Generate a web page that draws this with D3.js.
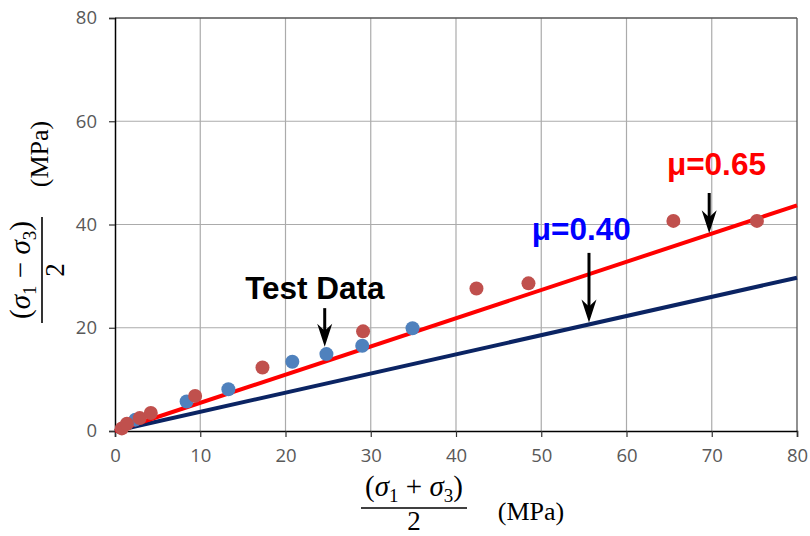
<!DOCTYPE html>
<html><head><meta charset="utf-8">
<script src="https://cdn.jsdelivr.net/npm/d3@7"></script>
<style>body{margin:0;background:#fff}svg{display:block}</style>
</head><body>
<script>
// ---- data ----
const redX = [0.8, 1.4, 2.9, 4.2, 9.4, 17.3, 29.1, 42.4, 48.5, 65.5, 75.3];
const redY = [0.5, 1.4, 2.5, 3.5, 6.8, 12.3, 19.3, 27.6, 28.6, 40.7, 40.7];
const blueX = [2.4, 8.4, 13.3, 20.8, 24.8, 29.0, 34.9];
const blueY = [2.2, 5.7, 8.1, 13.4, 14.9, 16.5, 19.9];
const lineX = [0, 80];
const lineRed = [0, 43.7];   // mu = 0.65
const lineBlue = [0, 29.7];  // mu = 0.40
const xTicks = [0, 10, 20, 30, 40, 50, 60, 70, 80];
const yTicks = [0, 20, 40, 60, 80];
const notes = [
  {text: "Test Data", color: "#000", lx: 23.45, ly: 25.6, ax: 24.6, ay0: 23.8, ay1: 16.3},
  {text: "μ=0.40", color: "#0000FF", lx: 54.7, ly: 37.0, ax: 55.6, ay0: 34.5, ay1: 21.0},
  {text: "μ=0.65", color: "#FF0000", lx: 70.55, ly: 49.6, ax: 69.7, ay0: 46.1, ay1: 38.3}
];

const W = 810, H = 536;
const m = {l: 115, r: 13, t: 18, b: 105};
const svg = d3.select("body").append("svg").attr("width", W).attr("height", H);
const x = d3.scaleLinear().domain([0, 80]).range([m.l, W - m.r]);
const y = d3.scaleLinear().domain([0, 80]).range([H - m.b, m.t]);

// grid
svg.append("g").selectAll("line.v").data(xTicks.slice(1, -1)).join("line")
  .attr("x1", d => x(d)).attr("x2", d => x(d)).attr("y1", y(0)).attr("y2", y(80))
  .attr("stroke", "#ababab").attr("stroke-width", 1.2);
svg.append("g").selectAll("line.h").data(yTicks.slice(1, -1)).join("line")
  .attr("x1", x(0)).attr("x2", x(80)).attr("y1", d => y(d)).attr("y2", d => y(d))
  .attr("stroke", "#ababab").attr("stroke-width", 1.2);
// frame
svg.append("line").attr("x1", x(0)).attr("x2", x(80)).attr("y1", y(80)).attr("y2", y(80)).attr("stroke", "#555").attr("stroke-width", 1.3);
svg.append("line").attr("x1", x(80)).attr("x2", x(80)).attr("y1", y(0)).attr("y2", y(80)).attr("stroke", "#555").attr("stroke-width", 1.3);

// axes
const xAxis = svg.append("g").attr("transform", `translate(0,${y(0)})`)
  .call(d3.axisBottom(x).tickValues(xTicks).tickSize(6).tickPadding(12).tickFormat(d3.format("d")));
const yAxis = svg.append("g").attr("transform", `translate(${x(0)},0)`)
  .call(d3.axisLeft(y).tickValues(yTicks).tickSize(6).tickPadding(12).tickFormat(d3.format("d")));
[xAxis, yAxis].forEach(g => {
  g.select(".domain").attr("stroke", "#000").attr("stroke-width", 1.5);
  g.selectAll(".tick line").attr("stroke", "#333").attr("stroke-width", 1.2);
  g.selectAll(".tick text").attr("fill", "#595959").style("font-family", "'Open Sans', 'Liberation Sans', sans-serif").style("font-size", "18.5px");
});

// lines
const lg = d3.line().x(d => x(d[0])).y(d => y(d[1]));
svg.append("path").datum(lineX.map((v, i) => [v, lineBlue[i]])).attr("d", lg)
  .attr("fill", "none").attr("stroke", "#0B2463").attr("stroke-width", 4);
svg.append("path").datum(lineX.map((v, i) => [v, lineRed[i]])).attr("d", lg)
  .attr("fill", "none").attr("stroke", "#FF0000").attr("stroke-width", 4);

// points
svg.append("g").selectAll("circle").data(blueX.map((v, i) => [v, blueY[i]])).join("circle")
  .attr("cx", d => x(d[0])).attr("cy", d => y(d[1])).attr("r", 7).attr("fill", "#4F81BD");
svg.append("g").selectAll("circle").data(redX.map((v, i) => [v, redY[i]])).join("circle")
  .attr("cx", d => x(d[0])).attr("cy", d => y(d[1])).attr("r", 7).attr("fill", "#C0504D");

// annotations
notes.forEach(n => {
  svg.append("text").attr("x", x(n.lx)).attr("y", y(n.ly)).attr("text-anchor", "middle")
    .attr("fill", n.color).style("font-family", "'Liberation Sans', Arial, sans-serif")
    .style("font-weight", "bold").style("font-size", "31.5px").text(n.text);
  const ax = x(n.ax), y0 = y(n.ay0), y1 = y(n.ay1);
  svg.append("line").attr("x1", ax).attr("x2", ax).attr("y1", y0).attr("y2", y1 - 14)
    .attr("stroke", "#000").attr("stroke-width", 3);
  svg.append("path").attr("d", `M${ax},${y1} L${ax - 7.5},${y1 - 23} L${ax},${y1 - 16} L${ax + 7.5},${y1 - 23} Z`)
    .attr("fill", "#000");
});

// axis titles (fractions)
const serif = "'Liberation Serif', 'DejaVu Serif', serif";
function frac(g, sign, half) {
  const num = g.append("text").attr("x", 0).attr("y", -14).attr("text-anchor", "middle")
    .style("font-family", serif).style("font-size", "29px").attr("fill", "#000");
  num.append("tspan").text("(");
  num.append("tspan").style("font-style", "italic").text("σ");
  num.append("tspan").attr("dy", 6).style("font-size", "19px").text("1");
  num.append("tspan").attr("dy", -6).text(" " + sign + " ");
  num.append("tspan").style("font-style", "italic").text("σ");
  num.append("tspan").attr("dy", 6).style("font-size", "19px").text("3");
  num.append("tspan").attr("dy", -6).text(")");
  g.append("line").attr("x1", -half).attr("x2", half).attr("y1", -2).attr("y2", -2).attr("stroke", "#000").attr("stroke-width", 1.6);
  g.append("text").attr("x", 0).attr("y", 20).attr("text-anchor", "middle")
    .style("font-family", serif).style("font-size", "27px").attr("fill", "#000").text("2");
}
const xt = svg.append("g").attr("transform", `translate(414,510)`);
frac(xt, "+", 53);
svg.append("text").attr("x", 531).attr("y", 520).attr("text-anchor", "middle")
  .style("font-family", serif).style("font-size", "26px").attr("fill", "#000").text("(MPa)");
const yt = svg.append("g").attr("transform", `translate(44,270) rotate(-90)`);
frac(yt, "−", 53);
svg.append("text").attr("transform", "translate(48,154) rotate(-90)").attr("text-anchor", "middle")
  .style("font-family", serif).style("font-size", "26px").attr("fill", "#000").text("(MPa)");
</script>
</body></html>
